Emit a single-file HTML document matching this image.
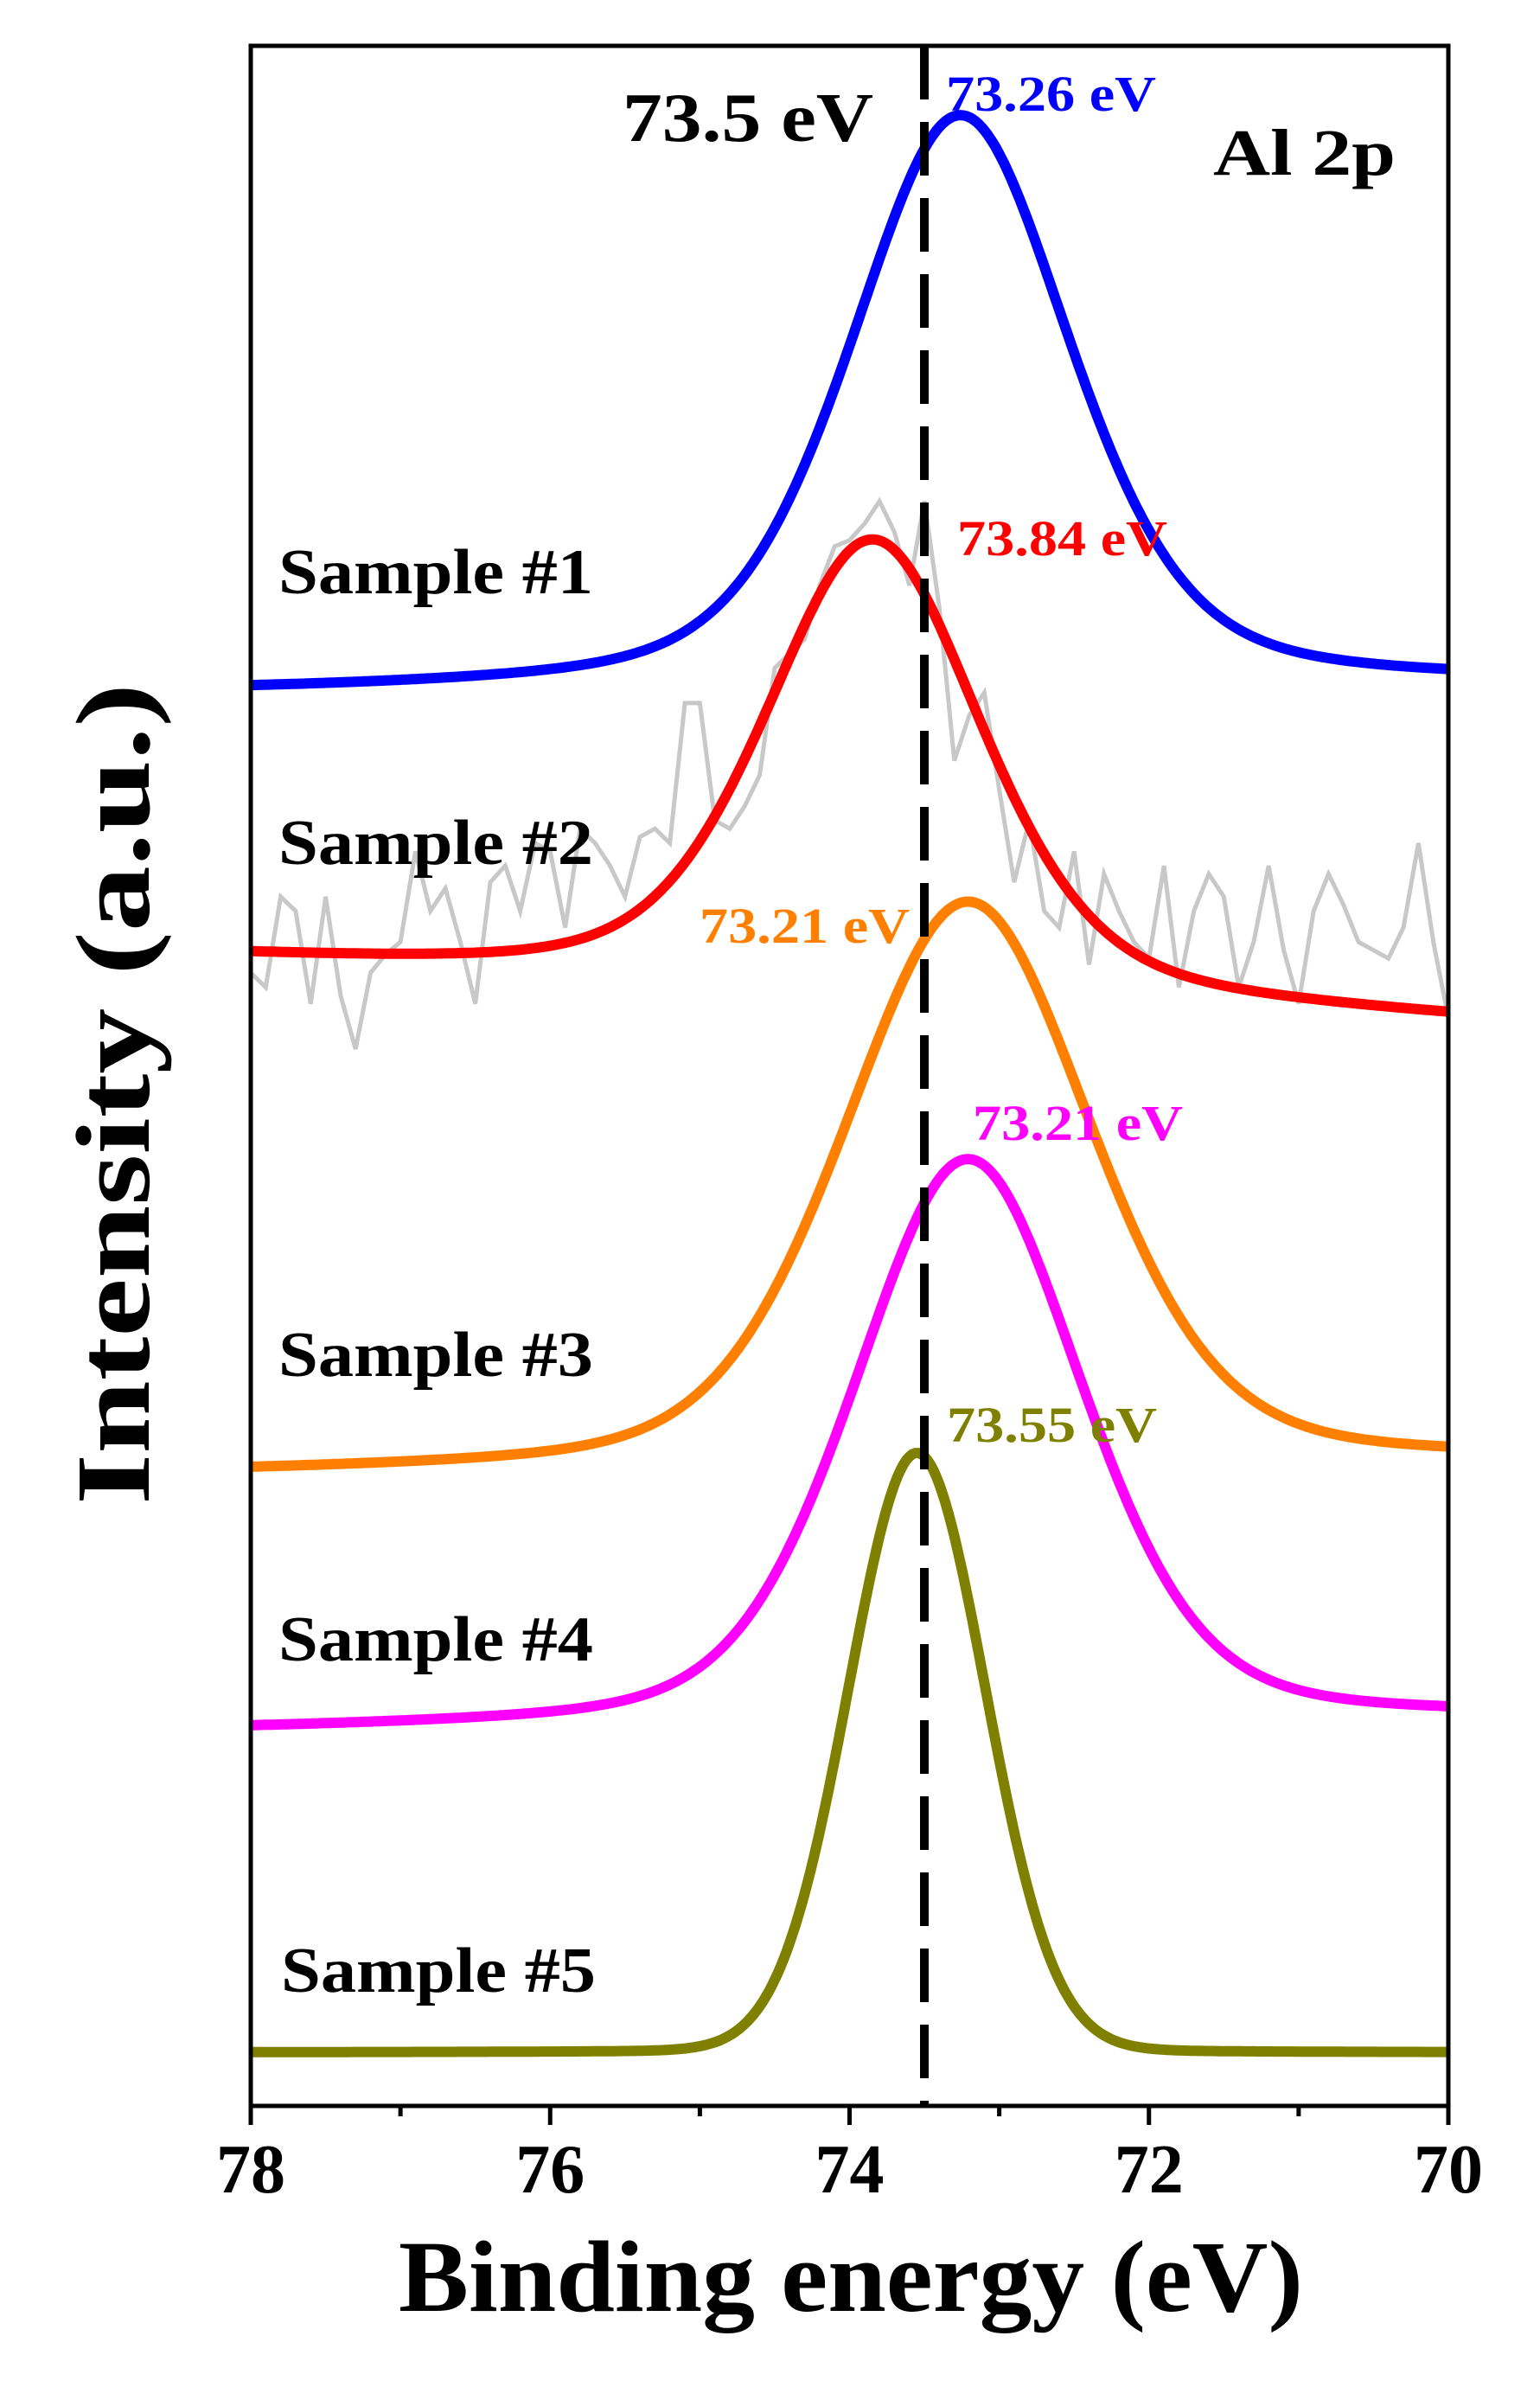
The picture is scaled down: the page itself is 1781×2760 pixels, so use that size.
<!DOCTYPE html>
<html><head><meta charset="utf-8"><style>
html,body{margin:0;padding:0;background:#fff;}
svg{display:block;}
text{font-family:"Liberation Serif",serif;font-weight:bold;}
</style></head><body>
<svg id="chart" width="1781" height="2760" viewBox="0 0 1781 2760" xmlns="http://www.w3.org/2000/svg">
<g id="curves"></g>
<line x1="1069" y1="53" x2="1069" y2="2435" stroke="#000" stroke-width="10" stroke-dasharray="62 26"/>
<rect x="290" y="53" width="1385" height="2382" fill="none" stroke="#000" stroke-width="5"/>
<g id="ticks"></g>
<text x="720" y="163" font-size="80" textLength="290" lengthAdjust="spacingAndGlyphs">73.5 eV</text>
<text x="1403" y="202" font-size="76" textLength="211" lengthAdjust="spacingAndGlyphs">Al 2p</text>
<text x="1094" y="128" font-size="58" fill="#0000ff" textLength="243" lengthAdjust="spacingAndGlyphs">73.26 eV</text>
<text x="1107" y="642" font-size="58" fill="#ff0000" textLength="243" lengthAdjust="spacingAndGlyphs">73.84 eV</text>
<text x="809" y="1090" font-size="58" fill="#ff8000" textLength="243" lengthAdjust="spacingAndGlyphs">73.21 eV</text>
<text x="1125" y="1318" font-size="58" fill="#ff00ff" textLength="243" lengthAdjust="spacingAndGlyphs">73.21 eV</text>
<text x="1095" y="1667" font-size="58" fill="#808000" textLength="243" lengthAdjust="spacingAndGlyphs">73.55 eV</text>
<text x="322" y="686" font-size="74" textLength="364" lengthAdjust="spacingAndGlyphs">Sample #1</text>
<text x="322" y="999" font-size="74" textLength="364" lengthAdjust="spacingAndGlyphs">Sample #2</text>
<text x="322" y="1591" font-size="74" textLength="364" lengthAdjust="spacingAndGlyphs">Sample #3</text>
<text x="322" y="1920" font-size="74" textLength="364" lengthAdjust="spacingAndGlyphs">Sample #4</text>
<text x="325" y="2303" font-size="74" textLength="364" lengthAdjust="spacingAndGlyphs">Sample #5</text>
<text x="984" y="2672" font-size="118" text-anchor="middle" textLength="1046" lengthAdjust="spacingAndGlyphs">Binding energy (eV)</text>
<text transform="translate(172,1265) rotate(-90)" x="0" y="0" font-size="122" text-anchor="middle" textLength="950" lengthAdjust="spacingAndGlyphs">Intensity (a.u.)</text>
</svg>
<script>
const names = ['sample-1','sample-2','sample-3','sample-4','sample-5'];
const colors = ['#0000ff','#ff0000','#ff8000','#ff00ff','#808000'];
const centers = [73.26, 73.84, 73.21, 73.21, 73.55];
const heights = [278, 219, 274, 274, 291];
const fwhms = [1.75, 1.72, 1.95, 1.8, 1.08];
const etas = [0.4, 0.4, 0.3, 0.3, 0.03];
const baseLeft = [686, 557, 307, 182, 26];
const baseRight = [690, 527, 313, 188, 26];
const xTicks = [78, 76, 74, 72, 70];
const xMinor = [77, 75, 73, 71];
const raw2 = [550,543,587,580,535,587,539,513,550,559,565,609,580,591,565,535,594,602,580,613,609,572,620,613,602,587,616,620,613,681,681,624,620,631,646,698,705,712,738,757,760,768,779,764,738,779,727,653,675,686,639,594,624,580,572,609,554,598,580,565,557,602,543,580,598,587,543,565,602,561,535,580,598,583,565,561,557,572,613,565,528];

const X0=290,X1=1675,Y0=2435,Y1=53;
function sx(e){return X0+(78-e)/(78-70)*(X1-X0);}
function sy(u){return Y0-u/1000*(Y0-Y1);}
function pv(e,i){
  const d=e-centers[i], w=fwhms[i]/2;
  const L=1/(1+(d/w)*(d/w));
  const G=Math.exp(-Math.LN2*(d/w)*(d/w));
  const b=baseLeft[i]+(baseRight[i]-baseLeft[i])*(78-e)/8;
  return b+heights[i]*(etas[i]*L+(1-etas[i])*G);
}
const NS='http://www.w3.org/2000/svg';
const g=document.getElementById('curves');
let d='';
for(let k=0;k<raw2.length;k++){
  const e=78-k*8/(raw2.length-1);
  d+=(k?'L':'M')+sx(e).toFixed(1)+','+sy(raw2[k]).toFixed(1);
}
const rp=document.createElementNS(NS,'path');
rp.setAttribute('d',d);rp.setAttribute('fill','none');rp.setAttribute('stroke','#c8c8c8');rp.setAttribute('stroke-width','5');


g.appendChild(rp);
for(let i=0;i<names.length;i++){
  let p='';
  for(let k=0;k<=400;k++){
    const e=78-k*0.02;
    p+=(k?'L':'M')+sx(e).toFixed(1)+','+sy(pv(e,i)).toFixed(1);
  }
  const el=document.createElementNS(NS,'path');
  el.setAttribute('d',p);el.setAttribute('fill','none');el.setAttribute('stroke',colors[i]);el.setAttribute('stroke-width','12');
  
  
  g.appendChild(el);
}
const t=document.getElementById('ticks');
xTicks.forEach(v=>{
  const l=document.createElementNS(NS,'line');
  l.setAttribute('x1',sx(v));l.setAttribute('x2',sx(v));l.setAttribute('y1',Y0);l.setAttribute('y2',Y0+22);
  l.setAttribute('stroke','#000');l.setAttribute('stroke-width','5');
  
  
  t.appendChild(l);
  const tx=document.createElementNS(NS,'text');
  tx.setAttribute('x',sx(v));tx.setAttribute('y',2535);tx.setAttribute('font-size','80');tx.setAttribute('text-anchor','middle');
  tx.textContent=v;
  
  
  t.appendChild(tx);
});
xMinor.forEach(v=>{
  const l=document.createElementNS(NS,'line');
  l.setAttribute('x1',sx(v));l.setAttribute('x2',sx(v));l.setAttribute('y1',Y0);l.setAttribute('y2',Y0+12);
  l.setAttribute('stroke','#000');l.setAttribute('stroke-width','5');
  
  
  t.appendChild(l);
});
</script>
</body></html>
